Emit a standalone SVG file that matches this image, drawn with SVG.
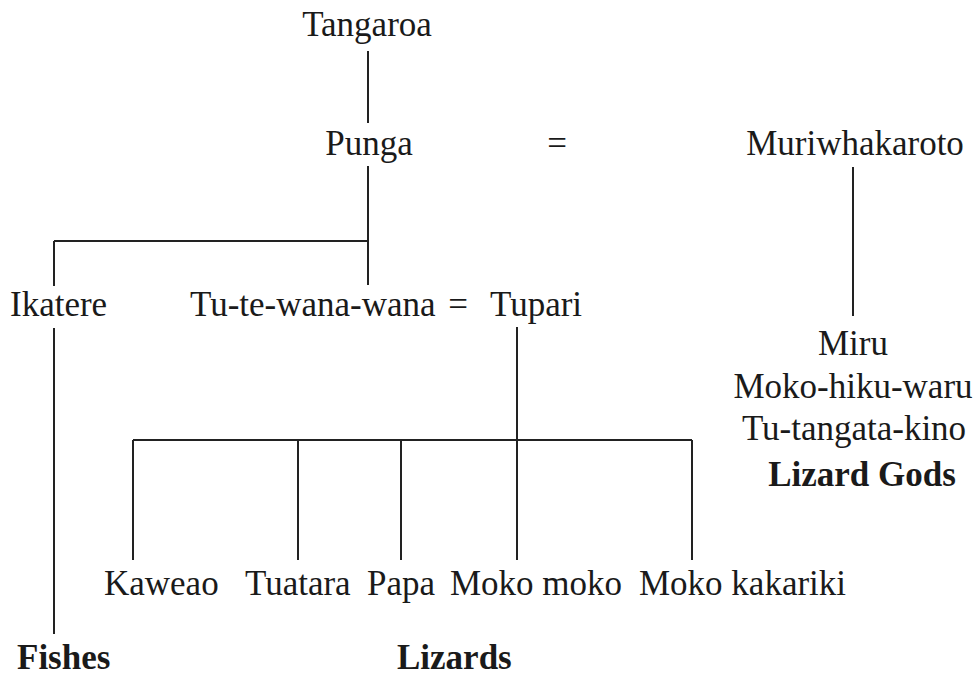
<svg xmlns="http://www.w3.org/2000/svg" width="979" height="677" viewBox="0 0 979 677">
<style>
text{font-family:"Liberation Serif","Times New Roman",serif;font-size:35px;fill:#1a1a1a}
.b{font-weight:bold}
.m{text-anchor:middle}
#connectors line{stroke:#222;stroke-width:2;fill:none}
</style>
<rect width="979" height="677" fill="#fff"/>
<g id="connectors">
<line x1="368" y1="51" x2="368" y2="123"/>
<line x1="368" y1="166" x2="368" y2="285"/>
<line x1="54" y1="241" x2="368" y2="241"/>
<line x1="54" y1="241" x2="54" y2="286"/>
<line x1="54" y1="328" x2="54" y2="634"/>
<line x1="853" y1="167" x2="853" y2="316"/>
<line x1="517" y1="327" x2="517" y2="560"/>
<line x1="133" y1="440" x2="692" y2="440"/>
<line x1="133" y1="440" x2="133" y2="560"/>
<line x1="298" y1="440" x2="298" y2="560"/>
<line x1="401" y1="440" x2="401" y2="560"/>
<line x1="692" y1="440" x2="692" y2="560"/>
</g>
<g id="tangaroa"><text x="367" y="36" class="m">Tangaroa</text></g>
<g id="punga"><text x="369" y="155" class="m">Punga</text></g>
<g id="eq1"><text x="557" y="155" class="m">=</text></g>
<g id="muriwhakaroto"><text x="855" y="155" class="m">Muriwhakaroto</text></g>
<g id="ikatere"><text x="10" y="316">Ikatere</text></g>
<g id="tutewanawana"><text x="190" y="316">Tu-te-wana-wana</text></g>
<g id="eq2"><text x="458" y="316" class="m">=</text></g>
<g id="tupari"><text x="490" y="316">Tupari</text></g>
<g id="lizardgods">
<text x="853" y="355" class="m">Miru</text>
<text x="853" y="398" class="m">Moko-hiku-waru</text>
<text x="854" y="440" class="m">Tu-tangata-kino</text>
<text x="862" y="486" class="m b">Lizard Gods</text>
</g>
<g id="kaweao"><text x="104" y="595">Kaweao</text></g>
<g id="tuatara"><text x="245" y="595">Tuatara</text></g>
<g id="papa"><text x="367" y="595">Papa</text></g>
<g id="mokomoko"><text x="450" y="595">Moko moko</text></g>
<g id="mokokakariki"><text x="639" y="595">Moko kakariki</text></g>
<g id="fishes"><text x="17" y="669" class="b">Fishes</text></g>
<g id="lizards"><text x="397" y="669" class="b">Lizards</text></g>
</svg>
